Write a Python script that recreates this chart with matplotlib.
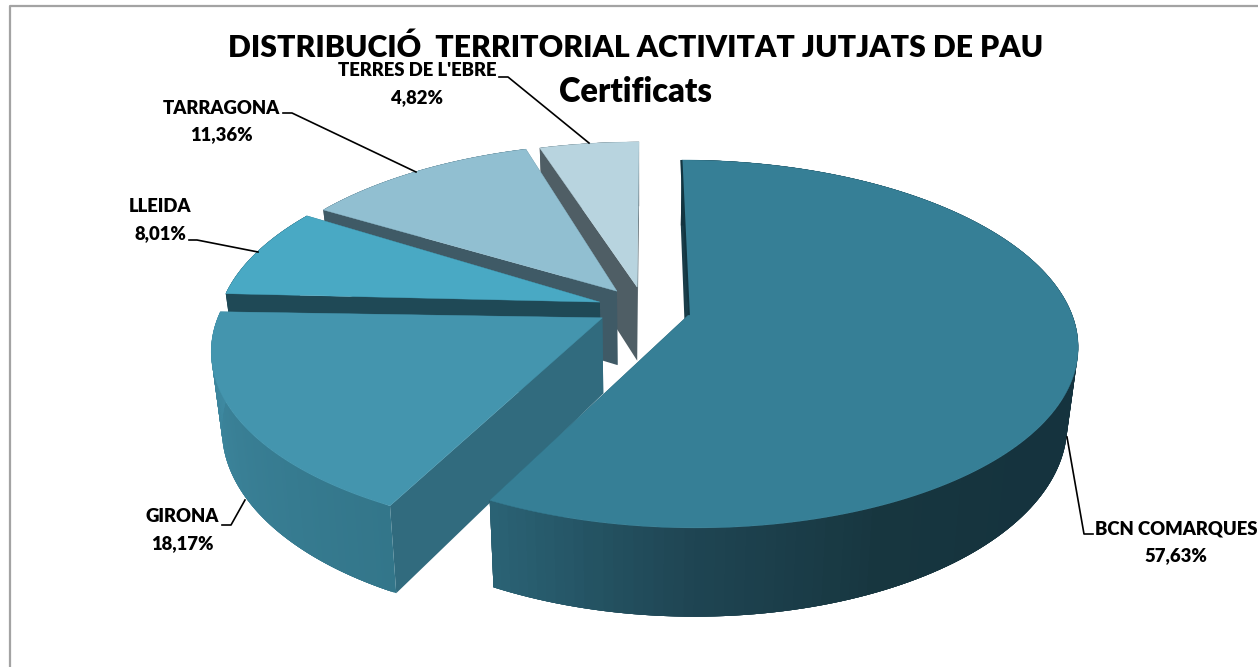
import numpy as np
import matplotlib
matplotlib.use("Agg")
import matplotlib.pyplot as plt
from matplotlib.colors import LinearSegmentedColormap
from matplotlib.patches import Polygon

plt.rcParams['font.family'] = ['Lato', 'DejaVu Sans']

# Data
territories = ["BCN COMARQUES", "GIRONA", "LLEIDA", "TARRAGONA", "TERRES DE L'EBRE"]
shares = [57.63, 18.17, 8.01, 11.36, 4.82]
title_lines = ["DISTRIBUCIÓ  TERRITORIAL ACTIVITAT JUTJATS DE PAU", "Certificats"]

# Colours per slice
top_colors = ["#367f96", "#4495ae", "#49a9c4", "#91bfd1", "#b8d4df"]
side_colors = ["#1a3d49", "#316b7e", "#1f4956", "#3f5a66", "#4f5e65"]
rim_colors = [
    ["#15333e", "#15333e", "#15333e", "#15333e", "#15333e", "#15333e", "#17363f", "#1f4553", "#2a6274"],
    ["#33768a", "#397f95", "#3f8ba3"],
    ["#1f4956", "#1f4956"],
    ["#3f5a66", "#3f5a66"],
    ["#4f5e65", "#4f5e65"],
]

# Perspective of the 3D pie, in pixels
CX, CY = 640, 310
FX, FY = 387, 180
PERSP = 0.152
EXPLODE = 0.12
DEPTH = 75
BOTTOM_SCALE = 0.975
# small per slice corrections: radius, arc and apex
radius = [0.99, 0.985, 1.0, 1.0, 1.0]
arc_nudge = [(2.5, 1), (2, 0), (11, -1), (10, 2), (5, 4)]
apex_nudge = [(3, 0), (3, -3), (4, -1.5), (5, -2), (4, -2)]

# Label anchors and leader lines
label_pos = [(1176, 529), (182, 517), (160, 207), (221, 108), (417, 71)]
value_pos = [(1176, 556), (182, 544), (160, 234), (221, 135), (417, 98)]
leaders = [
    [(1093, 534), (1084, 534), (1067, 437)],
    [(222, 525), (231, 525), (245, 500)],
    [(189, 240), (197, 240), (258, 252)],
    [(283, 113), (292, 113), (416, 172)],
    [(499, 77), (508, 77), (589, 143)],
]


def project(u, v):
    s = 1 / (1 + PERSP * v)
    return CX + FX * u * s, CY - FY * v * s, s


def lower(x, y, s):
    # same point on the underside of the pie
    return CX + (x - CX) * BOTTOM_SCALE, y + DEPTH * s


fig = plt.figure(figsize=(12.58, 6.67), dpi=100)
ax = fig.add_axes([0, 0, 1, 1])
ax.set_xlim(0, 1258)
ax.set_ylim(667, 0)
ax.axis('off')

# Chart frame
ax.plot([10, 10, 1258], [667, 6, 6], color='#a3a3a3', lw=1.6, zorder=1)

edges = np.cumsum([0] + shares) / sum(shares) * 2 * np.pi
slices = []
for i in range(len(shares)):
    t = np.linspace(edges[i], edges[i + 1], 160)
    mid = (edges[i] + edges[i + 1]) / 2
    du, dv = EXPLODE * np.sin(mid), EXPLODE * np.cos(mid)
    x, y, s = project(radius[i] * np.sin(t) + du, radius[i] * np.cos(t) + dv)
    x, y = x + arc_nudge[i][0], y + arc_nudge[i][1]
    ax0, ay0, as0 = project(du, dv)
    ax0, ay0 = ax0 + apex_nudge[i][0], ay0 + apex_nudge[i][1]
    slices.append((x, y, s, ax0, ay0, as0))

# Painter's order: back slices first, the large front slice last
z = 2
for i in [4, 3, 2, 1, 0]:
    x, y, s, ax0, ay0, as0 = slices[i]
    xb, yb = lower(x, y, s)
    axb, ayb = lower(ax0, ay0, as0)

    # radial wall on the start side of the slice and on the end side
    for j in [-1, 0]:
        wall = [(x[j], y[j]), (ax0, ay0), (axb, ayb), (xb[j], yb[j])]
        ax.add_patch(Polygon(wall, closed=True, fc=side_colors[i], ec='none', zorder=z))
    z += 1

    # outer rim with the shading along the arc, overlapping quads so no seams show
    cmap = LinearSegmentedColormap.from_list("rim", rim_colors[i])
    n = len(x)
    for k in range(n - 1):
        e = min(k + 4, n - 1)
        quad = np.column_stack([np.r_[x[k:e + 1], xb[k:e + 1][::-1]], np.r_[y[k:e + 1], yb[k:e + 1][::-1]]])
        ax.add_patch(Polygon(quad, closed=True, fc=cmap(k / (n - 2)), ec='none', zorder=z))
    z += 1

    # top face
    top = np.column_stack([np.r_[ax0, x], np.r_[ay0, y]])
    ax.add_patch(Polygon(top, closed=True, fc=top_colors[i], ec=top_colors[i], lw=0.3, zorder=z))
    z += 1

# dark sliver along the left edge of the big slice
x0, y0, _, ax0, ay0, _ = slices[0]
ax.plot([x0[0] - 0.5, ax0 + 0.5], [y0[0], ay0], color='#123642', lw=1.6, zorder=z, solid_capstyle='butt')
z += 1

# Leaders
for pts in leaders:
    ax.plot([p[0] for p in pts], [p[1] for p in pts], color='black', lw=1.2, zorder=z)
z += 1

# Labels
for name, val, lp, vp in zip(territories, shares, label_pos, value_pos):
    pct = f"{val:.2f}".replace('.', ',') + "%"
    ax.text(lp[0], lp[1], name, ha='center', va='center', fontsize=13.3, fontweight='heavy', zorder=z)
    ax.text(vp[0], vp[1], pct, ha='center', va='center', fontsize=13.3, fontweight='heavy', zorder=z)

# Title
ax.text(636, 48, title_lines[0], ha='center', va='center', fontsize=21.7, fontweight='heavy', zorder=z)
ax.text(636, 92, title_lines[1], ha='center', va='center', fontsize=23.5, fontweight='heavy', zorder=z)

fig.savefig("out.png", dpi=100)
